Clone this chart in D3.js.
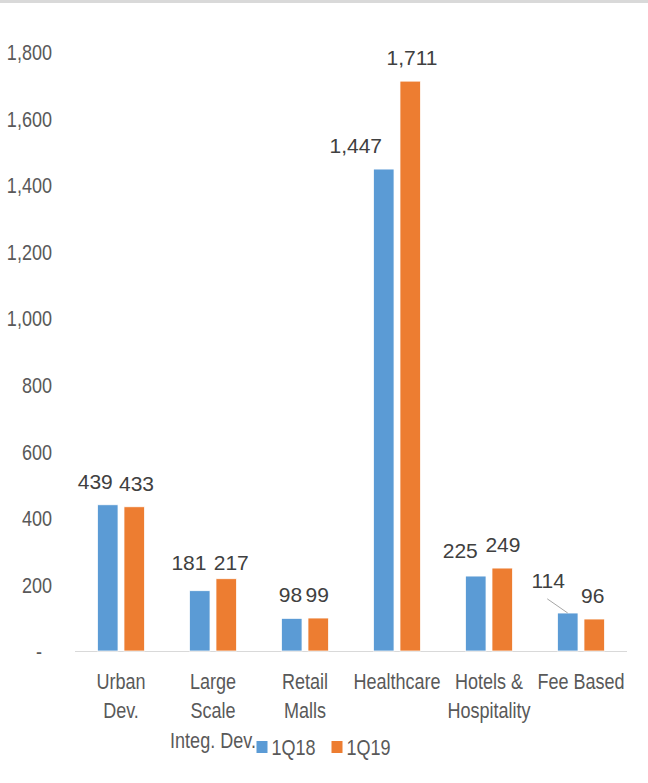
<!DOCTYPE html>
<html>
<head>
<meta charset="utf-8">
<script src="https://cdn.jsdelivr.net/npm/d3@7"></script>
<style>
  html, body { margin: 0; padding: 0; background: #fff; }
  svg { display: block; }
  .tick-label, .cat-label, .legend-label {
    font-family: "Liberation Sans", Arial, sans-serif;
    font-size: 22px;
    fill: #595959;
  }
  .value-label {
    font-family: "Liberation Sans", Arial, sans-serif;
    font-size: 21px;
    fill: #404040;
  }
</style>
</head>
<body>
<svg id="chart" width="648" height="783"></svg>
<script>
// Segment revenue by quarter
const categories = ["Urban Dev.", "Large Scale Integ. Dev.", "Retail Malls", "Healthcare", "Hotels & Hospitality", "Fee Based"];
const categoryLines = [["Urban", "Dev."], ["Large", "Scale", "Integ. Dev."], ["Retail", "Malls"], ["Healthcare"], ["Hotels &", "Hospitality"], ["Fee Based"]];
const seriesNames = ["1Q18", "1Q19"];
const values1Q18 = [439, 181, 98, 1447, 225, 114];
const values1Q19 = [433, 217, 99, 1711, 249, 96];
const yTicks = [0, 200, 400, 600, 800, 1000, 1200, 1400, 1600, 1800];
const seriesColors = ["#5B9BD5", "#ED7D31"];

const seriesValues = [values1Q18, values1Q19];

const svg = d3.select("#chart");
const W = 648, H = 783;
const NARROW = 0.82; // condensed look for axis and legend text

// thin frame line along the top
svg.append("line")
  .attr("x1", 0).attr("x2", W).attr("y1", 1.5).attr("y2", 1.5)
  .attr("stroke", "#d9d9d9").attr("stroke-width", 3);

const plot = { left: 75, right: 627, top: 51.5, bottom: 651 };

const y = d3.scaleLinear().domain([0, 1800]).range([plot.bottom, plot.top]);
const x0 = d3.scaleBand().domain(categories).range([plot.left, plot.right]).padding(0);
const x1 = d3.scaleBand().domain(seriesNames)
  .range([x0.bandwidth() / 2 - 23.5, x0.bandwidth() / 2 + 23.5])
  .paddingInner(0.226).paddingOuter(0);

// y axis labels (no line, no ticks)
const fmt = d3.format(",");
const yAxis = d3.axisLeft(y).tickValues(yTicks)
  .tickSize(0).tickPadding(0)
  .tickFormat(d => d === 0 ? "-" : fmt(d));
const yg = svg.append("g").attr("transform", "translate(52,0)").call(yAxis);
yg.select(".domain").remove();
yg.selectAll("text")
  .attr("class", "tick-label")
  .attr("font-family", null).attr("font-size", null).attr("fill", null)
  .attr("dy", "0.36em")
  .attr("x", 0)
  .attr("transform", d => `translate(${d === 0 ? -10 : 0},0) scale(${NARROW},1)`);

// category axis line
svg.append("line")
  .attr("x1", plot.left).attr("x2", plot.right)
  .attr("y1", y(0) + 0.5).attr("y2", y(0) + 0.5)
  .attr("stroke", "#d9d9d9").attr("stroke-width", 1);

// bars
const rows = categories.map((c, i) => ({
  cat: c,
  items: seriesNames.map((s, j) => ({ cat: c, series: s, si: j, ci: i, value: seriesValues[j][i] }))
}));

const groups = svg.append("g").selectAll("g")
  .data(rows).join("g")
  .attr("transform", d => `translate(${x0(d.cat)},0)`);

groups.selectAll("rect")
  .data(d => d.items).join("rect")
  .attr("x", d => x1(d.series))
  .attr("width", x1.bandwidth())
  .attr("y", d => y(d.value))
  .attr("height", d => y(0) - y(d.value))
  .attr("fill", d => seriesColors[d.si])
  .attr("stroke", "#fff").attr("stroke-width", 0.75);

// data labels sit above the bars; some are shifted to keep neighbours apart
const labelShift = [
  [[-12.5, 0], [2.3, 0]],
  [[-10.8, -4.7], [5, 7.3]],
  [[-1.2, 0], [-1, 0]],
  [[-28, 0], [1.8, 0]],
  [[-15.5, -1.7], [0.7, 0]],
  [[-19.5, -8.7], [-1.5, 0]]
];
const leader = [[false, false], [false, false], [false, false], [false, false], [false, false], [true, false]];

const labels = svg.append("g");
rows.forEach(r => r.items.forEach(d => {
  const cx = x0(d.cat) + x1(d.series) + x1.bandwidth() / 2;
  const top = y(d.value);
  const [dx, dy] = labelShift[d.ci][d.si];
  const lx = cx + dx, ly = top - 16 + dy;
  labels.append("text")
    .attr("class", "value-label")
    .attr("x", lx).attr("y", ly)
    .attr("text-anchor", "middle")
    .text(fmt(d.value));
  if (leader[d.ci][d.si]) {
    labels.append("line")
      .attr("x1", lx - 1).attr("y1", ly + 10.5)
      .attr("x2", cx).attr("y2", top)
      .attr("stroke", "#a6a6a6").attr("stroke-width", 1);
  }
}));

// category labels
const catG = svg.append("g");
categories.forEach((c, i) => {
  const cx = x0(c) + x0.bandwidth() / 2;
  const t = catG.append("text")
    .attr("class", "cat-label")
    .attr("text-anchor", "middle")
    .attr("transform", `translate(${cx},0) scale(${NARROW},1)`);
  categoryLines[i].forEach((line, k) => {
    t.append("tspan").attr("x", 0).attr("y", 689 + k * 29.5).text(line);
  });
});

// legend
const legend = svg.append("g");
const legendX = [256.5, 331.5];
seriesNames.forEach((s, j) => {
  legend.append("rect")
    .attr("x", legendX[j]).attr("y", 741)
    .attr("width", 11).attr("height", 12)
    .attr("fill", seriesColors[j]);
  legend.append("text")
    .attr("class", "legend-label")
    .attr("transform", `translate(${legendX[j] + 15},755) scale(${NARROW},1)`)
    .text(s);
});
</script>
</body>
</html>
